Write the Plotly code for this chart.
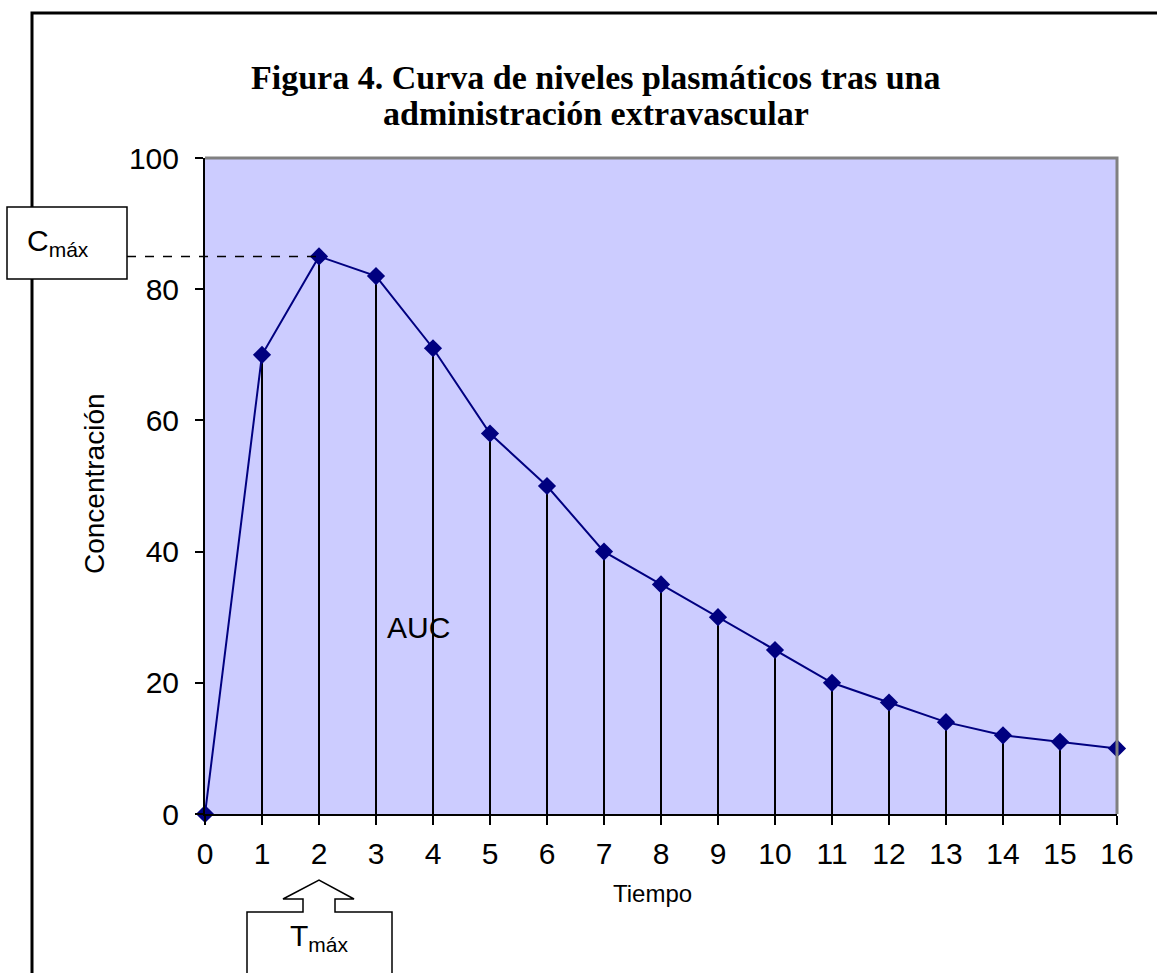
import plotly.graph_objects as go

tiempo = list(range(0, 17))
concentracion = [0, 70, 85, 82, 71, 58, 50, 40, 35, 30, 25, 20, 17, 14, 12, 11, 10]
x_ticks = list(range(0, 17))
y_ticks = [0, 20, 40, 60, 80, 100]

W, H = 1157, 973
L, R, T, B = 205, 40, 158, 159
PW, PH = W - L - R, H - T - B
XR = (0, 16)
YR = (0, 100)


def px(xp):
    return (xp - L) / PW


def py(yp):
    return (H - B - yp) / PH


def dx(v):
    return (v - XR[0]) / (XR[1] - XR[0])


def dy(v):
    return (v - YR[0]) / (YR[1] - YR[0])


FONT = "Liberation Sans"
SERIF = "Liberation Serif"

fig = go.Figure()

# drop lines
dl_x, dl_y = [], []
for xv, yv in zip(tiempo, concentracion):
    if yv > 0:
        dl_x += [xv, xv, None]
        dl_y += [0, yv, None]
fig.add_trace(go.Scatter(x=dl_x, y=dl_y, mode="lines",
                         line=dict(color="black", width=2),
                         hoverinfo="skip", showlegend=False))

fig.add_trace(go.Scatter(x=tiempo, y=concentracion, mode="lines+markers",
                         line=dict(color="#000080", width=2),
                         marker=dict(symbol="diamond", size=14, color="#000080"),
                         cliponaxis=False, showlegend=False))

imax = concentracion.index(max(concentracion))
tmax, cmax = tiempo[imax], concentracion[imax]

shapes = []
# outer frame
shapes.append(dict(type="path", xref="paper", yref="paper",
                   path=f"M {px(32)},{py(H+20)} L {px(32)},{py(13)} L {px(W+20)},{py(13)}",
                   line=dict(color="black", width=3)))
# gray border top/right of plot area
shapes.append(dict(type="path", xref="paper", yref="paper",
                   path="M 0,1 L 1,1 L 1,0",
                   line=dict(color="#808080", width=3)))
# dashed Cmax line
shapes.append(dict(type="line", xref="paper", yref="paper",
                   x0=px(127), x1=dx(tmax), y0=dy(cmax), y1=dy(cmax),
                   line=dict(color="black", width=1.5, dash="dash")))
# Cmax box
shapes.append(dict(type="rect", xref="paper", yref="paper",
                   x0=px(7), x1=px(127), y0=py(279), y1=py(207),
                   fillcolor="white", line=dict(color="black", width=1.5)))
# Tmax arrow box
cx = L + dx(tmax) * PW
pts = [(cx - 72, H + 20), (cx - 72, 912), (cx - 16, 912), (cx - 16, 899),
       (cx - 36, 899), (cx, 880), (cx + 35, 899), (cx + 16, 899),
       (cx + 16, 912), (cx + 73, 912), (cx + 73, H + 20)]
path = "M " + " L ".join(f"{px(a)},{py(b)}" for a, b in pts) + " Z"
shapes.append(dict(type="path", xref="paper", yref="paper", path=path,
                   fillcolor="white", line=dict(color="black", width=1.5)))

title_font = dict(family=SERIF, size=34, color="black")
annotations = [
    dict(text="<b>Figura 4. Curva de niveles plasmáticos tras una</b>",
         xref="paper", yref="paper", x=px(595), y=py(78), showarrow=False,
         font=title_font, xanchor="center", yanchor="middle"),
    dict(text="<b>administración extravascular</b>",
         xref="paper", yref="paper", x=px(596), y=py(114), showarrow=False,
         font=title_font, xanchor="center", yanchor="middle"),
    dict(text="Tiempo", xref="paper", yref="paper", x=px(652), y=py(893),
         showarrow=False, font=dict(family=FONT, size=24, color="black"),
         xanchor="center", yanchor="middle"),
    dict(text="Concentración", xref="paper", yref="paper", x=px(94), y=py(484),
         showarrow=False, textangle=-90, font=dict(family=FONT, size=28, color="black"),
         xanchor="center", yanchor="middle"),
    dict(text="AUC", x=3.74, y=28.5, xref="x", yref="y", showarrow=False,
         font=dict(family=FONT, size=30, color="black"), xanchor="center", yanchor="middle"),
    dict(text="C<sub>máx</sub>", xref="paper", yref="paper", x=px(58), y=py(243),
         showarrow=False, font=dict(family=FONT, size=30, color="black"),
         xanchor="center", yanchor="middle"),
    dict(text="T<sub>máx</sub>", xref="paper", yref="paper", x=px(cx), y=py(937),
         showarrow=False, font=dict(family=FONT, size=30, color="black"),
         xanchor="center", yanchor="middle"),
]

fig.update_layout(
    width=W, height=H,
    margin=dict(l=L, r=R, t=T, b=B, pad=0),
    paper_bgcolor="white", plot_bgcolor="#CCCCFF",
    shapes=shapes, annotations=annotations,
    showlegend=False,
    xaxis=dict(range=list(XR), tickvals=x_ticks, ticktext=[str(v) for v in x_ticks],
               showgrid=False, zeroline=False, showline=True, linecolor="black", linewidth=2,
               ticks="outside", ticklen=9, tickwidth=2, tickcolor="black",
               tickfont=dict(family=FONT, size=30, color="black"), ticklabelstandoff=3),
    yaxis=dict(range=list(YR), tickvals=y_ticks, showgrid=False, zeroline=False,
               showline=True, linecolor="black", linewidth=2,
               ticks="outside", ticklen=8, tickwidth=2, tickcolor="black",
               tickfont=dict(family=FONT, size=30, color="black"), ticklabelstandoff=10),
)

fig.write_html("out.html")
